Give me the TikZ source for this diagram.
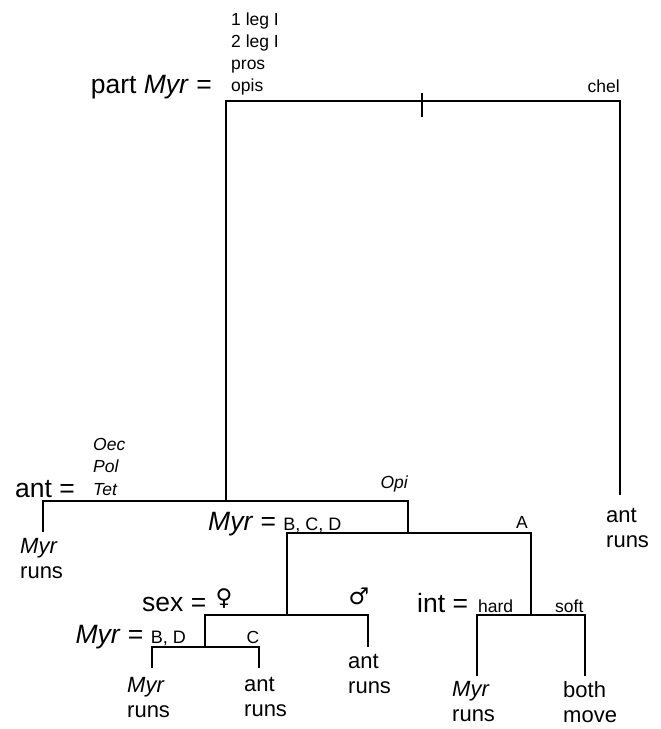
\documentclass[tikz,border=0pt]{standalone}
\usepackage{fontspec}
\setmainfont{Liberation Sans}
\newfontfamily\symfont{DejaVu Sans}
\begin{document}
\begin{tikzpicture}[x=1pt,y=-1pt,
  edge/.style={line width=1.9pt, line join=miter},
  big/.style={font=\fontsize{26.5}{30}\selectfont, inner sep=0pt},
  small/.style={font=\fontsize{17.5}{22}\selectfont, inner sep=0pt},
  smallit/.style={font=\fontsize{17.5}{22.5}\selectfont\itshape, inner sep=0pt},
  stack/.style={font=\fontsize{17.5}{22}\selectfont, inner sep=0pt, align=left, anchor=north west},
  leaf/.style={font=\fontsize{22}{25}\selectfont, inner sep=0pt, align=left, anchor=north west},
  sym/.style={font=\symfont\fontsize{23}{26}\selectfont, inner sep=0pt}]
\useasboundingbox (0,0) rectangle (661,729);

% branch points
\coordinate (rootL) at (226,101);
\coordinate (rootR) at (620,101);
\coordinate (tickT) at (422,93);
\coordinate (tickB) at (422,117);
\coordinate (rightEnd) at (620,495);
\coordinate (antJ) at (226,501);
\coordinate (antL) at (43,501);
\coordinate (antR) at (408,501);
\coordinate (leafA) at (43,532);
\coordinate (bcdJ) at (408,533);
\coordinate (aL) at (287,533);
\coordinate (aR) at (531,533);
\coordinate (sexJ) at (287,615);
\coordinate (sexL) at (205,615);
\coordinate (sexR) at (368,615);
\coordinate (maleEnd) at (368,647);
\coordinate (bdJ) at (205,647);
\coordinate (bdL) at (152,647);
\coordinate (bdR) at (259,647);
\coordinate (bdLe) at (152,668);
\coordinate (bdRe) at (259,668);
\coordinate (intJ) at (531,615);
\coordinate (intL) at (477,615);
\coordinate (intR) at (585,615);
\coordinate (intLe) at (477,676);
\coordinate (intRe) at (585,676);

% connectors
\draw[edge] (antJ) -- (rootL) -- (rootR) -- (rightEnd);
\draw[edge] (tickT) -- (tickB);
\draw[edge] (leafA) -- (antL) -- (antR) -- (bcdJ);
\draw[edge] (sexJ) -- (aL) -- (aR) -- (intJ);
\draw[edge] (bdJ) -- (sexL) -- (sexR) -- (maleEnd);
\draw[edge] (bdLe) -- (bdL) -- (bdR) -- (bdRe);
\draw[edge] (intLe) -- (intL) -- (intR) -- (intRe);

% labels
\node[big, anchor=base east] (partlab) at (212,93) {part \textit{Myr} =};
\node[stack] (parts) at (231,13) {1 leg I\\2 leg I\\pros\\opis};
\node[small, anchor=base east] (chel) at (620,92) {chel};

\node[big, anchor=base west] (antlab) at (15,497) {ant =};
\node[stack, font=\fontsize{17.5}{22.5}\selectfont\itshape] (genera) at (93,438) {Oec\\Pol\\Tet};
\node[smallit, anchor=base east] (opi) at (408,488) {Opi};

\node[big, anchor=base west] (myrbcd) at (208,530) {\textit{Myr} = {\fontsize{18}{22}\selectfont B, C, D}};
\node[small, anchor=base east] (alab) at (528,528) {A};

\node[big, anchor=base west] (sexlab) at (142,611) {sex =};
\node[sym] (female) at (224,599) {♀};
\node[sym] (male) at (359,596) {♂};

\node[big, anchor=base east] (myrbd) at (186,643) {\textit{Myr} = {\fontsize{18}{22}\selectfont B, D}};
\node[small, anchor=base] (clab) at (253,643) {C};

\node[big, anchor=base west] (intlab) at (417,612) {int =};
\node[small, anchor=base west] (hard) at (478,612) {hard};
\node[small, anchor=base west] (soft) at (555,612) {soft};

% leaves
\node[leaf] (leaf1) at (20,538) {\textit{Myr}\\runs};
\node[leaf] (leaf2) at (606,508) {ant\\runs};
\node[leaf] (leaf3) at (127,677) {\textit{Myr}\\runs};
\node[leaf] (leaf4) at (244,677) {ant\\runs};
\node[leaf] (leaf5) at (348,654) {ant\\runs};
\node[leaf] (leaf6) at (452,681) {\textit{Myr}\\runs};
\node[leaf] (leaf7) at (563,681) {both\\move};
\end{tikzpicture}
\end{document}
